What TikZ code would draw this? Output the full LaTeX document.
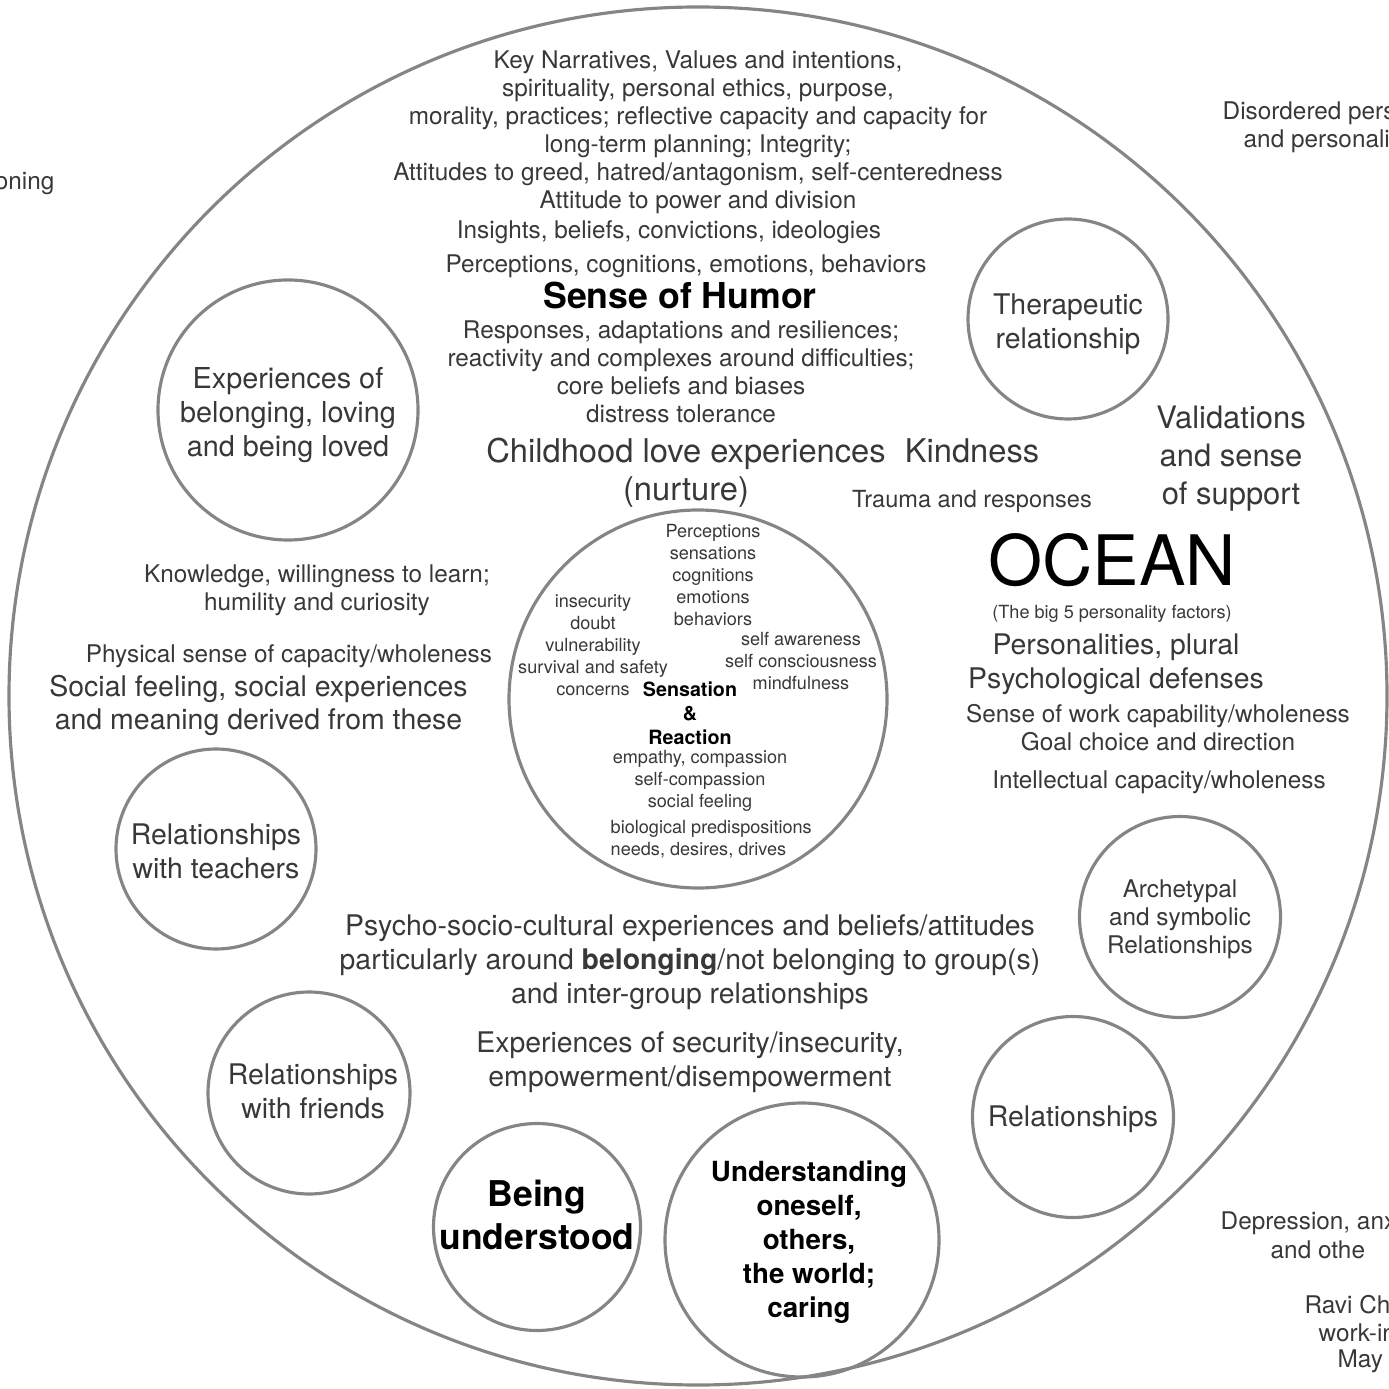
\documentclass[tikz,border=0pt]{standalone}
\usepackage{fontspec}
\setmainfont{TeX Gyre Heros}

\definecolor{inkgray}{gray}{0.22}
\definecolor{ringgray}{gray}{0.52}

\newcommand{\txtS}{\fontsize{5.15pt}{6.26pt}\selectfont}
\newcommand{\txtM}{\fontsize{6.92pt}{7.97pt}\selectfont}
\newcommand{\txtL}{\fontsize{8.08pt}{9.67pt}\selectfont}
\newcommand{\txtXL}{\fontsize{9.3pt}{10.8pt}\selectfont}

\tikzset{
	ring/.style={draw=ringgray, line width=0.9pt},
	bubble/.style={circle, draw=ringgray, line width=0.9pt, inner sep=0pt},
	blurb/.style={align=center, text=inkgray, inner sep=0pt},
	cut/.style={anchor=west, text=inkgray, inner sep=0pt, font=\txtM},
}

\begin{document}
\begin{tikzpicture}
			%%%%% START %%%%%
			
			\useasboundingbox (0, 0) rectangle (13.89, 13.88);
			\clip (0, 0) rectangle (13.89, 13.88);
			
			\draw[ring] (6.98, 6.92) circle (6.89);
			
			% relationship bubbles
			\node[bubble, minimum size=2.60cm] (belong) at (2.88, 9.78) {};
			\node[bubble, minimum size=2.00cm] (therapy) at (10.68, 10.69) {};
			\node[bubble, minimum size=2.00cm] (teachers) at (2.16, 5.39) {};
			\node[bubble, minimum size=2.02cm] (friends) at (3.09, 2.95) {};
			\node[bubble, minimum size=2.01cm] (relations) at (10.73, 2.71) {};
			\node[bubble, minimum size=2.01cm] (archetype) at (11.80, 4.71) {};
			\node[bubble, minimum size=2.74cm] (oneself) at (8.02, 1.48) {};
			\node[bubble, minimum size=2.07cm] (understood) at (5.37, 1.61) {};
			
			\node[blurb, yshift=-0.05cm, font=\fontsize{8.2pt}{9.67pt}\selectfont] (belongtxt) at (belong) {Experiences of\\belonging, loving\\and being loved};
			\node[blurb, yshift=-0.05cm, font=\txtL] (therapytxt) at (therapy) {Therapeutic\\relationship};
			\node[blurb, yshift=-0.02cm, font=\txtL] (teacherstxt) at (teachers) {Relationships\\with teachers};
			\node[blurb, xshift=0.04cm, yshift=0.02cm, font=\txtL] (friendstxt) at (friends) {Relationships\\with friends};
			\node[blurb, yshift=-0.02cm, font=\txtL] (relationstxt) at (relations) {Relationships};
			\node[blurb, yshift=-0.02cm, font=\txtM] (archetypetxt) at (archetype) {Archetypal\\and symbolic\\Relationships};
			\node[blurb, xshift=0.07cm, yshift=-0.025cm, text=black, font=\bfseries\fontsize{7.9pt}{9.67pt}\selectfont] (oneselftxt) at (oneself) {Understanding\\oneself,\\others,\\the world;\\caring};
			\node[blurb, yshift=0.12cm, text=black, font=\bfseries\fontsize{10.1pt}{12.2pt}\selectfont] (understoodtxt) at (understood) {Being\\understood};
			
			% sensation core
			\node[bubble, minimum size=3.78cm] (core) at (6.98, 6.89) {};
			\node[blurb, font=\txtS] (senses) at (7.13, 8.13) {Perceptions\\sensations\\cognitions\\emotions\\behaviors};
			\node[blurb, font=\txtS] (insecure) at (5.93, 7.43) {insecurity\\doubt\\vulnerability\\survival and safety\\concerns};
			\node[blurb, font=\txtS] (aware) at (8.01, 7.27) {self awareness\\self consciousness\\mindfulness};
			\node[blurb, text=black, font=\bfseries\fontsize{5.6pt}{6.83pt}\selectfont] (reaction) at (6.90, 6.75) {Sensation\\\&\\Reaction};
			\node[blurb, font=\txtS] (empathy) at (7.00, 6.07) {empathy, compassion\\self-compassion\\social feeling};
			\node[blurb, font=\txtS, align=left, anchor=west] (biology) at (6.10, 5.49) {biological predispositions\\needs, desires, drives};
			
			% top
			\node[blurb, font=\txtM] (values) at (6.98, 12.56) {Key Narratives, Values and intentions,\\spirituality, personal ethics, purpose,\\morality, practices; reflective capacity and capacity for\\long-term planning; Integrity;\\Attitudes to greed, hatred/antagonism, self-centeredness\\Attitude to power and division};
			\node[blurb, font=\txtM] (insights) at (6.69, 11.56) {Insights, beliefs, convictions, ideologies};
			\node[blurb, font=\txtM] (percepts) at (6.86, 11.22) {Perceptions, cognitions, emotions, behaviors};
			\node[blurb, text=black, font=\bfseries\fontsize{10.15pt}{12pt}\selectfont] (humor) at (6.80, 10.92) {Sense of Humor};
			\node[blurb, font=\txtM] (responses) at (6.81, 10.16) {Responses, adaptations and resiliences;\\reactivity and complexes around difficulties;\\core beliefs and biases\\distress tolerance};
			\node[blurb, font=\txtXL] (childhood) at (6.86, 9.15) {Childhood love experiences\\(nurture)};
			\node[blurb, font=\txtXL] (kindness) at (9.72, 9.37) {Kindness};
			\node[blurb, font=\fontsize{6.7pt}{8pt}\selectfont] (trauma) at (9.72, 8.87) {Trauma and responses};
			\node[blurb, font=\fontsize{8.8pt}{10.8pt}\selectfont] (validation) at (12.31, 9.29) {Validations\\and sense\\of support};
			
			% right
			\node[blurb, text=black, font=\fontsize{19.8pt}{22pt}\selectfont] (ocean) at (11.12, 8.28) {OCEAN};
			\node[blurb, font=\txtS] (bigfive) at (11.12, 7.74) {(The big 5 personality factors)};
			\node[blurb, font=\txtL] (defenses) at (11.16, 7.24) {Personalities, plural\\Psychological defenses};
			\node[blurb, font=\txtM] (work) at (11.58, 6.60) {Sense of work capability/wholeness\\Goal choice and direction};
			\node[blurb, font=\txtM] (intellect) at (11.59, 6.06) {Intellectual capacity/wholeness};
			
			% left
			\node[blurb, font=\txtM] (knowledge) at (3.17, 7.98) {Knowledge, willingness to learn;\\humility and curiosity};
			\node[blurb, font=\txtM] (physical) at (2.89, 7.32) {Physical sense of capacity/wholeness};
			\node[blurb, font=\fontsize{8.1pt}{9.4pt}\selectfont] (social) at (2.585, 6.825) {Social feeling, social experiences\\and meaning derived from these};
			
			% bottom
			\node[blurb, font=\txtL] (culture) at (6.90, 4.26) {Psycho-socio-cultural experiences and beliefs/attitudes\\particularly around \textbf{belonging}/not belonging to group(s)\\and inter-group relationships};
			\node[blurb, font=\txtL] (security) at (6.90, 3.26) {Experiences of security/insecurity,\\empowerment/disempowerment};
			
			% outside the ring
			\node[cut, anchor=east] (oning) at (0.55, 12.04) {oning};
			\node[cut] (disorder) at (12.22, 12.75) {Disordered pers};
			\node[cut] (disorderb) at (12.43, 12.47) {and personali};
			\node[cut] (depression) at (12.20, 1.65) {Depression, anx};
			\node[cut] (depressionb) at (12.70, 1.38) {and othe};
			\node[cut] (sign) at (13.04, 0.83) {Ravi Ch};
			\node[cut] (signb) at (13.18, 0.55) {work-in};
			\node[cut] (signc) at (13.37, 0.27) {May 2};
			
			%%%%% END %%%%%
\end{tikzpicture}
\end{document}
